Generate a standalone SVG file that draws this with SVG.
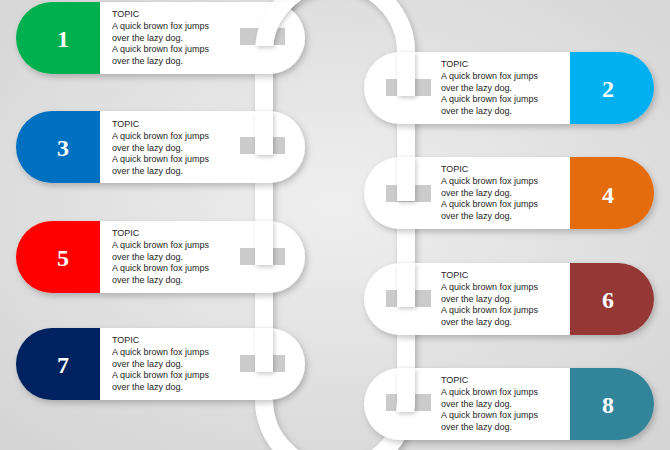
<svg xmlns="http://www.w3.org/2000/svg" width="670" height="450" viewBox="0 0 670 450">
<defs>
<radialGradient id="bg" cx="50%" cy="45%" r="70%">
<stop offset="0" stop-color="#efefef"/>
<stop offset="1" stop-color="#d5d5d5"/>
</radialGradient>
<filter id="sh" x="-20%" y="-20%" width="140%" height="150%">
<feDropShadow dx="2" dy="3" stdDeviation="3" flood-color="#000" flood-opacity="0.22"/>
</filter>
<filter id="sh2" x="-50%" y="-50%" width="200%" height="200%">
<feDropShadow dx="1.5" dy="2" stdDeviation="2" flood-color="#000" flood-opacity="0.2"/>
</filter>
<clipPath id="over">
<rect x="235" y="2" width="80" height="44"/>
<rect x="235" y="111" width="80" height="44"/>
<rect x="235" y="221" width="80" height="44"/>
<rect x="235" y="328" width="80" height="44"/>
<rect x="355" y="52" width="80" height="44"/>
<rect x="355" y="157" width="80" height="44"/>
<rect x="355" y="263" width="80" height="44"/>
<rect x="355" y="368" width="80" height="44"/>
</clipPath>
</defs>
<style>
.chain{fill:none;stroke:#ffffff;stroke-width:18}
.white{fill:#ffffff}
.hole{fill:#cbcbcb}
.t{font-family:"Liberation Sans",Arial,sans-serif;font-size:9px;fill:#262626}
.n{font-family:"Liberation Serif","Times New Roman",serif;font-weight:bold;font-size:24px;fill:#ffffff;text-anchor:middle}
</style>
<rect width="670" height="450" fill="url(#bg)"/>

<g id="connectors">
<path class="chain" filter="url(#sh)" d="M264,52 A71,71 0 0 1 406,52 L406,400 A71,71 0 0 1 264,400 Z"/>
</g>

<g id="card-1" filter="url(#sh)">
<path fill="#00b050" d="M100,2 L52,2 A36,36 0 0 0 52,74 L100,74 Z"/>
<path class="white" d="M100,2 L269,2 A36,36 0 0 1 269,74 L100,74 Z"/>
</g>
<g id="card-3" filter="url(#sh)">
<path fill="#0070c0" d="M100,111 L52,111 A36,36 0 0 0 52,183 L100,183 Z"/>
<path class="white" d="M100,111 L269,111 A36,36 0 0 1 269,183 L100,183 Z"/>
</g>
<g id="card-5" filter="url(#sh)">
<path fill="#ff0000" d="M100,221 L52,221 A36,36 0 0 0 52,293 L100,293 Z"/>
<path class="white" d="M100,221 L269,221 A36,36 0 0 1 269,293 L100,293 Z"/>
</g>
<g id="card-7" filter="url(#sh)">
<path fill="#002060" d="M100,328 L52,328 A36,36 0 0 0 52,400 L100,400 Z"/>
<path class="white" d="M100,328 L269,328 A36,36 0 0 1 269,400 L100,400 Z"/>
</g>
<g id="card-2" filter="url(#sh)">
<path class="white" d="M570,52 L400,52 A36,36 0 0 0 400,124 L570,124 Z"/>
<path fill="#00b0f0" d="M570,52 L618,52 A36,36 0 0 1 618,124 L570,124 Z"/>
</g>
<g id="card-4" filter="url(#sh)">
<path class="white" d="M570,157 L400,157 A36,36 0 0 0 400,229 L570,229 Z"/>
<path fill="#e46c0a" d="M570,157 L618,157 A36,36 0 0 1 618,229 L570,229 Z"/>
</g>
<g id="card-6" filter="url(#sh)">
<path class="white" d="M570,263 L400,263 A36,36 0 0 0 400,335 L570,335 Z"/>
<path fill="#953735" d="M570,263 L618,263 A36,36 0 0 1 618,335 L570,335 Z"/>
</g>
<g id="card-8" filter="url(#sh)">
<path class="white" d="M570,368 L400,368 A36,36 0 0 0 400,440 L570,440 Z"/>
<path fill="#31849b" d="M570,368 L618,368 A36,36 0 0 1 618,440 L570,440 Z"/>
</g>

<g id="holes">
<rect class="hole" x="240" y="28" width="45" height="17"/>
<rect class="hole" x="240" y="137" width="45" height="17"/>
<rect class="hole" x="240" y="248" width="45" height="17"/>
<rect class="hole" x="240" y="355" width="45" height="17"/>
<rect class="hole" x="386" y="79" width="45" height="17"/>
<rect class="hole" x="386" y="185" width="45" height="17"/>
<rect class="hole" x="386" y="290" width="45" height="17"/>
<rect class="hole" x="386" y="394" width="45" height="17"/>
</g>

<g id="chain-over" filter="url(#sh2)">
<g clip-path="url(#over)">
<path class="chain" d="M264,52 A71,71 0 0 1 406,52 L406,400 A71,71 0 0 1 264,400 Z"/>
</g>
</g>

<g id="labels">
<text class="n" x="63" y="47">1</text>
<text class="n" x="63" y="156">3</text>
<text class="n" x="63" y="266">5</text>
<text class="n" x="63" y="373">7</text>
<text class="n" x="608" y="97">2</text>
<text class="n" x="608" y="203">4</text>
<text class="n" x="608" y="308">6</text>
<text class="n" x="608" y="413">8</text>

<text class="t" x="112" y="17">TOPIC<tspan x="112" dy="11.8">A quick brown fox jumps</tspan><tspan x="112" dy="11.8">over the lazy dog.</tspan><tspan x="112" dy="11.8">A quick brown fox jumps</tspan><tspan x="112" dy="11.8">over the lazy dog.</tspan></text>
<text class="t" x="112" y="127">TOPIC<tspan x="112" dy="11.8">A quick brown fox jumps</tspan><tspan x="112" dy="11.8">over the lazy dog.</tspan><tspan x="112" dy="11.8">A quick brown fox jumps</tspan><tspan x="112" dy="11.8">over the lazy dog.</tspan></text>
<text class="t" x="112" y="236">TOPIC<tspan x="112" dy="11.8">A quick brown fox jumps</tspan><tspan x="112" dy="11.8">over the lazy dog.</tspan><tspan x="112" dy="11.8">A quick brown fox jumps</tspan><tspan x="112" dy="11.8">over the lazy dog.</tspan></text>
<text class="t" x="112" y="343">TOPIC<tspan x="112" dy="11.8">A quick brown fox jumps</tspan><tspan x="112" dy="11.8">over the lazy dog.</tspan><tspan x="112" dy="11.8">A quick brown fox jumps</tspan><tspan x="112" dy="11.8">over the lazy dog.</tspan></text>
<text class="t" x="441" y="67">TOPIC<tspan x="441" dy="11.8">A quick brown fox jumps</tspan><tspan x="441" dy="11.8">over the lazy dog.</tspan><tspan x="441" dy="11.8">A quick brown fox jumps</tspan><tspan x="441" dy="11.8">over the lazy dog.</tspan></text>
<text class="t" x="441" y="172">TOPIC<tspan x="441" dy="11.8">A quick brown fox jumps</tspan><tspan x="441" dy="11.8">over the lazy dog.</tspan><tspan x="441" dy="11.8">A quick brown fox jumps</tspan><tspan x="441" dy="11.8">over the lazy dog.</tspan></text>
<text class="t" x="441" y="278">TOPIC<tspan x="441" dy="11.8">A quick brown fox jumps</tspan><tspan x="441" dy="11.8">over the lazy dog.</tspan><tspan x="441" dy="11.8">A quick brown fox jumps</tspan><tspan x="441" dy="11.8">over the lazy dog.</tspan></text>
<text class="t" x="441" y="383">TOPIC<tspan x="441" dy="11.8">A quick brown fox jumps</tspan><tspan x="441" dy="11.8">over the lazy dog.</tspan><tspan x="441" dy="11.8">A quick brown fox jumps</tspan><tspan x="441" dy="11.8">over the lazy dog.</tspan></text>
</g>
</svg>
